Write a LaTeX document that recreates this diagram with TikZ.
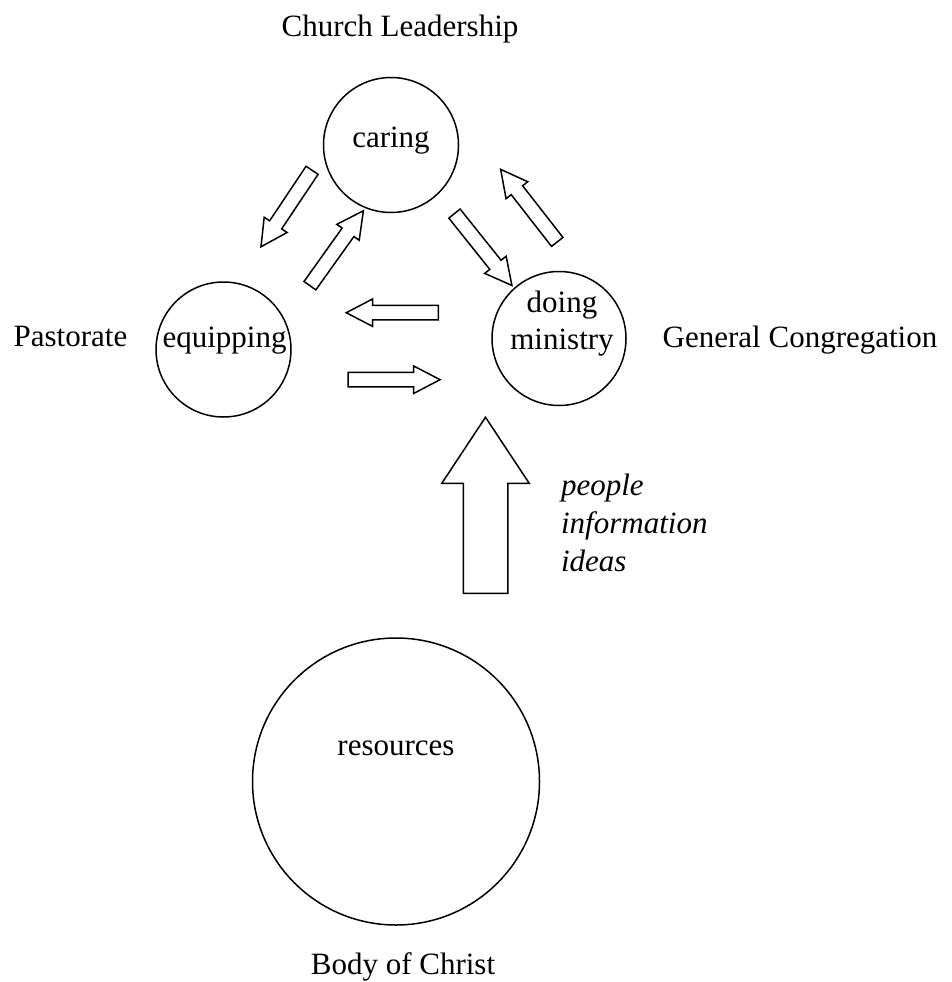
\documentclass[tikz,border=0pt]{standalone}
\usepackage{fontspec}
\setmainfont{Liberation Serif}
\usetikzlibrary{shapes.arrows}
\begin{document}
\begin{tikzpicture}[x=1pt,y=-1pt,line width=1.5pt,
	every node/.style={font=\fontsize{31}{37}\selectfont},
	ring/.style={draw,circle,inner sep=0pt},
	barrow/.style={draw,single arrow,sloped,allow upside down,pos=0,anchor=tail,inner xsep=0pt,inner ysep=6.5pt,
		single arrow head extend=6.5pt,single arrow tip angle=55,minimum height=92pt},
	bigarrow/.style={draw,single arrow,sloped,allow upside down,pos=0,anchor=tail,inner xsep=0pt,inner ysep=21.5pt,
		single arrow head extend=21.5pt,single arrow tip angle=67,minimum height=176pt}]
	\useasboundingbox (0,0) rectangle (951,982);
	% the four circles
	\node[ring,minimum size=135pt] (caring) at (391,145) {};
	\node[ring,minimum size=135pt] (equipping) at (223.5,349.5) {};
	\node[ring,minimum size=134pt] (doing) at (559,338.5) {};
	\node[ring,minimum size=287pt] (resources) at (396,781.5) {};
	\draw (391,147) node[anchor=base] (caring-t) {caring};
	\draw (224.5,347) node[anchor=base] (equipping-t) {equipping};
	\draw (562,349) node[anchor=base,align=center] (doing-t) {doing\\ministry};
	\draw (396,755) node[anchor=base] (resources-t) {resources};
	% outer labels
	\draw (400,37) node[anchor=base] (leadership) {Church Leadership};
	\draw (70.5,346) node[anchor=base] (pastorate) {Pastorate};
	\draw (800,347) node[anchor=base] (congregation) {General Congregation};
	\draw (403,974) node[anchor=base] (body) {Body of Christ};
	\draw (557,571) node[anchor=base west,align=left,font=\fontsize{31}{38}\selectfont\itshape] (flow) {people\\information\\ideas};
	% ends of the block arrows
	\coordinate (ce-a) at (312.5,169.7);
	\coordinate (ce-b) at (261.7,245.7);
	\coordinate (ec-a) at (309.5,286.3);
	\coordinate (ec-b) at (362.7,211.7);
	\coordinate (cd-a) at (454,213);
	\coordinate (cd-b) at (511,284.3);
	\coordinate (dc-a) at (557.7,242.5);
	\coordinate (dc-b) at (501.7,170.7);
	\coordinate (de-a) at (439,312.7);
	\coordinate (de-b) at (347.3,312.7);
	\coordinate (ed-a) at (347.3,379.7);
	\coordinate (ed-b) at (439.3,379.7);
	\coordinate (rd-a) at (485.5,594);
	\coordinate (rd-b) at (485.5,418);
	\path (ce-a) -- node[barrow] (ce) {} (ce-b);
	\path (ec-a) -- node[barrow] (ec) {} (ec-b);
	\path (cd-a) -- node[barrow] (cd) {} (cd-b);
	\path (dc-a) -- node[barrow] (dc) {} (dc-b);
	\path (de-a) -- node[barrow] (de) {} (de-b);
	\path (ed-a) -- node[barrow] (ed) {} (ed-b);
	\path (rd-a) -- node[bigarrow] (rd) {} (rd-b);
\end{tikzpicture}
\end{document}
